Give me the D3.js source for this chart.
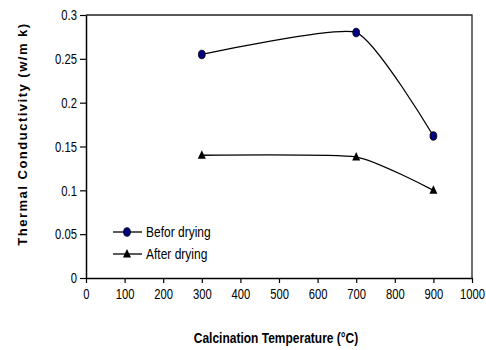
<!DOCTYPE html>
<html>
<head>
<meta charset="utf-8">
<script src="https://cdn.jsdelivr.net/npm/d3@7"></script>
<style>
  html, body { margin: 0; padding: 0; background: #fff; }
  svg { display: block; }
  .narrow { font-family: "Liberation Sans Narrow", "Arial Narrow", "Liberation Sans", Arial, sans-serif; }
</style>
</head>
<body>
<svg id="chart" width="486" height="350"></svg>
<script>
// Calcination temperature (°C) at which each sample was measured
const temperatures = [300, 700, 900];
// Thermal conductivity (W/m·K) before and after drying
const beforeDrying = [0.255, 0.28, 0.162];
const afterDrying = [0.14, 0.138, 0.1];
const seriesNames = ["Befor drying", "After drying"];
// Axis ticks
const xTicks = [0, 100, 200, 300, 400, 500, 600, 700, 800, 900, 1000];
const yTicks = [0, 0.05, 0.1, 0.15, 0.2, 0.25, 0.3];

const width = 486, height = 350;
const margin = { top: 15, right: 14, bottom: 72, left: 86 };

const svg = d3.select("#chart");

const x = d3.scaleLinear().domain([0, 1000]).range([margin.left, width - margin.right]);
const y = d3.scaleLinear().domain([0, 0.3]).range([height - margin.bottom, margin.top]);

// Condense a text element horizontally around its own x anchor
function condense(k) {
  return sel => sel.each(function () {
    const t = d3.select(this);
    const ax = +t.attr("x") || 0;
    t.attr("transform", `matrix(${k},0,0,1,${ax * (1 - k)},0)`);
  });
}

// Plot frame (top and right edges)
svg.append("path")
  .attr("d", `M${x(0)},${y(0.3)}H${x(1000)}V${y(0)}`)
  .attr("fill", "none")
  .attr("stroke", "#222")
  .attr("stroke-width", 1.3);

// X axis
const xAxis = svg.append("g")
  .attr("transform", `translate(0,${y(0)})`)
  .call(d3.axisBottom(x).tickValues(xTicks).tickFormat(d3.format("d")).tickSize(5).tickPadding(5).tickSizeOuter(0));

// Y axis
const yAxis = svg.append("g")
  .attr("transform", `translate(${x(0)},0)`)
  .call(d3.axisLeft(y).tickValues(yTicks).tickFormat(d => d === 0 ? "0" : String(d)).tickSize(6).tickPadding(3).tickSizeOuter(0));

[xAxis, yAxis].forEach(g => {
  g.select(".domain").attr("stroke", "#000").attr("stroke-width", 1.5);
  g.selectAll(".tick line").attr("stroke", "#000").attr("stroke-width", 1.2);
  g.selectAll(".tick text")
    .attr("class", "narrow")
    .attr("fill", "#000")
    .style("font-size", "15px")
    .call(condense(0.75));
});

// Axis titles
svg.append("text")
  .attr("class", "narrow")
  .attr("x", 276)
  .attr("y", 343)
  .attr("text-anchor", "middle")
  .style("font-size", "15px")
  .style("font-weight", "bold")
  .text("Calcination Temperature (°C)")
  .call(condense(0.8));

svg.append("text")
  .attr("transform", `translate(27,134) rotate(-90)`)
  .attr("text-anchor", "middle")
  .style("font-family", "'Liberation Sans', Arial, sans-serif")
  .style("font-size", "13px")
  .style("font-weight", "bold")
  .style("letter-spacing", "1.5px")
  .text("Thermal Conductivity (w/m k)");

// Smoothed series lines
const line = d3.line()
  .x((d, i) => x(temperatures[i]))
  .y(d => y(d))
  .curve(d3.curveCardinal.tension(0.5));

const plotG = svg.append("g");
[beforeDrying, afterDrying].forEach(values => {
  plotG.append("path")
    .attr("d", line(values))
    .attr("fill", "none")
    .attr("stroke", "#000")
    .attr("stroke-width", 1.3);
});

// Marker shapes
function drawCircle(g, cx, cy) {
  g.append("ellipse")
    .attr("cx", cx).attr("cy", cy)
    .attr("rx", 3.4).attr("ry", 4.3)
    .attr("fill", "#000080")
    .attr("stroke", "#000")
    .attr("stroke-width", 0.8);
}
function drawTriangle(g, cx, cy) {
  g.append("path")
    .attr("d", `M${cx},${cy - 5}L${cx + 4},${cy + 3.5}L${cx - 4},${cy + 3.5}Z`)
    .attr("fill", "#000");
}

beforeDrying.forEach((v, i) => drawCircle(plotG, x(temperatures[i]), y(v)));
afterDrying.forEach((v, i) => drawTriangle(plotG, x(temperatures[i]), y(v)));

// Legend
const legend = svg.append("g");
const legendMarkers = [drawCircle, drawTriangle];
seriesNames.forEach((name, i) => {
  const ly = 232 + i * 22;
  legend.append("line")
    .attr("x1", 113).attr("x2", 142)
    .attr("y1", ly).attr("y2", ly)
    .attr("stroke", "#000").attr("stroke-width", 1.3);
  legendMarkers[i](legend, 127, ly);
  legend.append("text")
    .attr("class", "narrow")
    .attr("x", 146)
    .attr("y", ly)
    .attr("dy", "0.35em")
    .style("font-size", "15px")
    .text(name)
    .call(condense(0.8));
});
</script>
</body>
</html>
